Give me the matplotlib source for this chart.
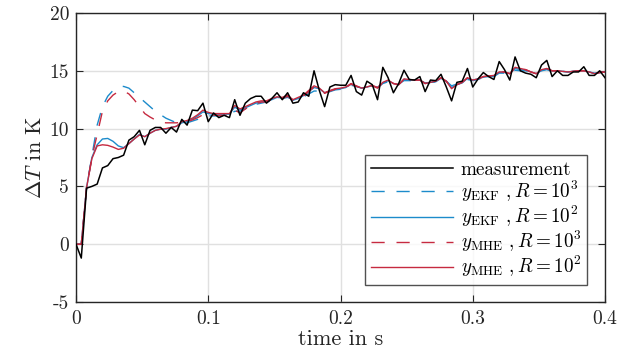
import numpy as np
import matplotlib
matplotlib.use("Agg")
import matplotlib.pyplot as plt

plt.rcParams['font.family'] = 'serif'
plt.rcParams['font.serif'] = ['cmr10']
plt.rcParams['mathtext.fontset'] = 'cm'
plt.rcParams['axes.formatter.use_mathtext'] = True
plt.rcParams['axes.unicode_minus'] = False

dt = 0.004
measurement = [
    0.0, -1.2, 4.85, 5.0, 5.2, 6.6, 6.8, 7.4, 7.5, 7.7,
    9.0, 9.3, 9.85, 8.6, 9.85, 10.1, 10.1, 9.6, 10.1, 9.7,
    10.8, 10.3, 11.6, 11.55, 12.2, 10.6, 11.35, 10.95, 11.15, 10.95,
    12.5, 11.15, 12.2, 12.6, 12.8, 12.8, 12.2, 12.6, 13.1, 12.5,
    13.1, 12.2, 12.3, 13.1, 12.8, 15.0, 13.3, 11.9, 13.6, 13.8,
    13.75, 13.75, 14.6, 13.2, 12.9, 14.1, 13.8, 12.5, 15.3, 14.4,
    13.1, 13.9, 15.05, 14.25, 14.2, 14.5, 13.2, 14.2, 14.15, 14.7,
    13.6, 12.4, 14.0, 14.1, 15.2, 13.6, 14.3, 14.85, 14.5, 14.25,
    15.8, 15.1, 14.2, 16.2, 15.0, 14.8, 14.7, 14.4, 15.5, 15.9,
    14.5, 15.0, 14.6, 14.6, 14.9, 14.9, 15.35, 14.6, 14.6, 15.0,
    14.4]

ekf_R1e3 = [
    0.0, 0.0, 4.9, 7.6, 10.3, 11.9, 12.8, 13.3, 13.6, 13.65,
    13.5, 13.1, 12.7, 12.3, 11.9, 11.5, 11.2, 10.9, 10.7, 10.5,
    10.4, 10.5, 10.65, 10.8, 11.0, 11.1, 11.1, 11.1, 11.1, 11.2,
    11.5, 11.5, 11.7, 11.9, 12.1, 12.2, 12.3, 12.4, 12.55, 12.6,
    12.7, 12.5, 12.6, 12.75, 13.0, 13.25, 13.25, 13.05, 13.2, 13.35,
    13.4, 13.5, 13.75, 13.65, 13.5, 13.6, 13.7, 13.55, 13.9, 14.05,
    13.9, 13.85, 14.15, 14.15, 14.15, 14.2, 13.95, 14.0, 14.05, 14.3,
    14.1, 13.7, 13.85, 13.95, 14.25, 14.15, 14.25, 14.4, 14.5, 14.5,
    14.8, 14.8, 14.7, 15.05, 15.0, 15.0, 14.9, 14.8, 15.0, 15.1,
    14.95, 15.0, 14.95, 14.9, 14.95, 15.0, 15.0, 14.9, 14.8, 14.85,
    14.9]

ekf_R1e2 = [
    0.0, 0.0, 4.9, 7.5, 8.6, 9.1, 9.15, 8.9, 8.5, 8.35,
    8.7, 9.1, 9.5, 9.3, 9.6, 9.85, 9.95, 9.95, 10.1, 10.2,
    10.5, 10.6, 10.8, 11.1, 11.45, 11.3, 11.25, 11.25, 11.25, 11.25,
    11.85, 11.6, 11.8, 12.0, 12.2, 12.3, 12.35, 12.5, 12.7, 12.65,
    12.8, 12.45, 12.6, 12.85, 13.2, 13.55, 13.45, 13.1, 13.25, 13.4,
    13.45, 13.55, 13.85, 13.65, 13.5, 13.6, 13.7, 13.55, 13.95, 14.15,
    13.9, 13.8, 14.25, 14.2, 14.2, 14.2, 13.9, 14.0, 14.05, 14.35,
    14.1, 13.55, 13.8, 13.95, 14.35, 14.2, 14.3, 14.45, 14.5, 14.55,
    14.85, 14.85, 14.75, 15.2, 15.1, 15.05, 14.9, 14.75, 15.05, 15.15,
    15.0, 15.0, 14.95, 14.9, 14.95, 15.0, 15.0, 14.9, 14.75, 14.85,
    14.9]

mhe_R1e3 = [
    0.0, 0.0, 4.9, 7.5, 9.5, 11.5, 12.4, 12.9, 13.2, 13.25,
    13.0, 12.5, 11.9, 11.3, 11.0, 10.75, 10.55, 10.5, 10.5, 10.5,
    10.55, 10.6, 10.75, 10.95, 11.2, 11.2, 11.15, 11.15, 11.15, 11.15,
    11.6, 11.35, 11.7, 11.95, 12.15, 12.3, 12.3, 12.5, 12.65, 12.6,
    12.8, 12.45, 12.6, 12.8, 13.2, 13.6, 13.45, 13.05, 13.25, 13.4,
    13.45, 13.55, 13.85, 13.65, 13.5, 13.6, 13.7, 13.5, 13.95, 14.15,
    13.9, 13.8, 14.25, 14.2, 14.2, 14.2, 13.9, 14.0, 14.1, 14.4,
    14.1, 13.5, 13.8, 14.0, 14.4, 14.2, 14.3, 14.5, 14.55, 14.6,
    14.9, 14.9, 14.75, 15.25, 15.15, 15.1, 14.9, 14.75, 15.1, 15.2,
    15.0, 15.0, 14.95, 14.9, 14.95, 15.0, 15.0, 14.9, 14.75, 14.85,
    14.9]

mhe_R1e2 = [
    0.0, 0.0, 4.9, 7.4, 8.5, 8.6, 8.55, 8.4, 8.2, 8.3,
    8.7, 9.1, 9.45, 9.3, 9.6, 9.85, 9.95, 10.0, 10.1, 10.2,
    10.6, 10.7, 10.9, 11.2, 11.6, 11.4, 11.3, 11.3, 11.3, 11.3,
    12.0, 11.7, 11.9, 12.1, 12.3, 12.4, 12.4, 12.6, 12.75, 12.7,
    12.9, 12.5, 12.7, 12.9, 13.3, 13.7, 13.5, 13.1, 13.3, 13.45,
    13.5, 13.6, 13.9, 13.7, 13.5, 13.6, 13.75, 13.55, 14.0, 14.2,
    13.9, 13.8, 14.3, 14.25, 14.2, 14.2, 13.9, 14.0, 14.1, 14.4,
    14.1, 13.45, 13.8, 14.0, 14.4, 14.2, 14.3, 14.5, 14.55, 14.6,
    14.9, 14.9, 14.75, 15.3, 15.2, 15.1, 14.9, 14.75, 15.1, 15.2,
    15.0, 15.0, 14.95, 14.9, 14.95, 15.0, 15.0, 14.9, 14.75, 14.85,
    14.9]

t = np.arange(len(measurement)) * dt

blue = '#1C8BCB'
red = '#C62A40'

fig = plt.figure(figsize=(6.34, 3.63), dpi=100)
ax = fig.add_axes([76/634, 1-302/363, (605-76)/634, (302-13)/363])

dash = (0, (9.5, 8.5))
ax.plot(t, measurement, color='black', lw=1.1, label='measurement', zorder=5)
ax.plot(t, ekf_R1e3, color=blue, lw=1.0, ls=dash, label=r'$y_{\mathrm{EKF}}\ , R = 10^3$')
ax.plot(t, ekf_R1e2, color=blue, lw=1.0, label=r'$y_{\mathrm{EKF}}\ , R = 10^2$')
ax.plot(t, mhe_R1e3, color=red, lw=1.0, ls=dash, label=r'$y_{\mathrm{MHE}}\ , R = 10^3$')
ax.plot(t, mhe_R1e2, color=red, lw=1.0, label=r'$y_{\mathrm{MHE}}\ , R = 10^2$')

ax.set_xlim(0, 0.4)
ax.set_ylim(-5, 20)
ax.set_xticks([0, 0.1, 0.2, 0.3, 0.4])
ax.set_xticklabels(['0', '0.1', '0.2', '0.3', '0.4'])
ax.set_yticks([-5, 0, 5, 10, 15, 20])
ax.set_yticklabels(['-5', '0', '5', '10', '15', '20'])
ax.grid(True, color='#e0e0e0', lw=1.0)
ax.set_axisbelow(True)
ax.tick_params(direction='in', top=True, right=True, labelsize=14, length=5,
               color='#262626', labelcolor='#262626')
ax.tick_params(axis='x', pad=6)
ax.tick_params(axis='y', pad=5)
for s in ax.spines.values():
    s.set_color('#262626')
    s.set_linewidth(1.0)

ax.set_xlabel('time in s', fontsize=16, color='#262626', labelpad=1)
ax.set_ylabel(r'$\Delta T$ in K', fontsize=16, color='#262626', labelpad=3)

leg = ax.legend(loc='lower right', bbox_to_anchor=(0.966, 0.058), fontsize=13.8,
                frameon=True, fancybox=False, edgecolor='#262626',
                handlelength=4.3, borderpad=0.3, labelspacing=0.0,
                handletextpad=0.4, borderaxespad=0)
leg.get_frame().set_linewidth(1.0)

fig.savefig('out.png', dpi=100)
